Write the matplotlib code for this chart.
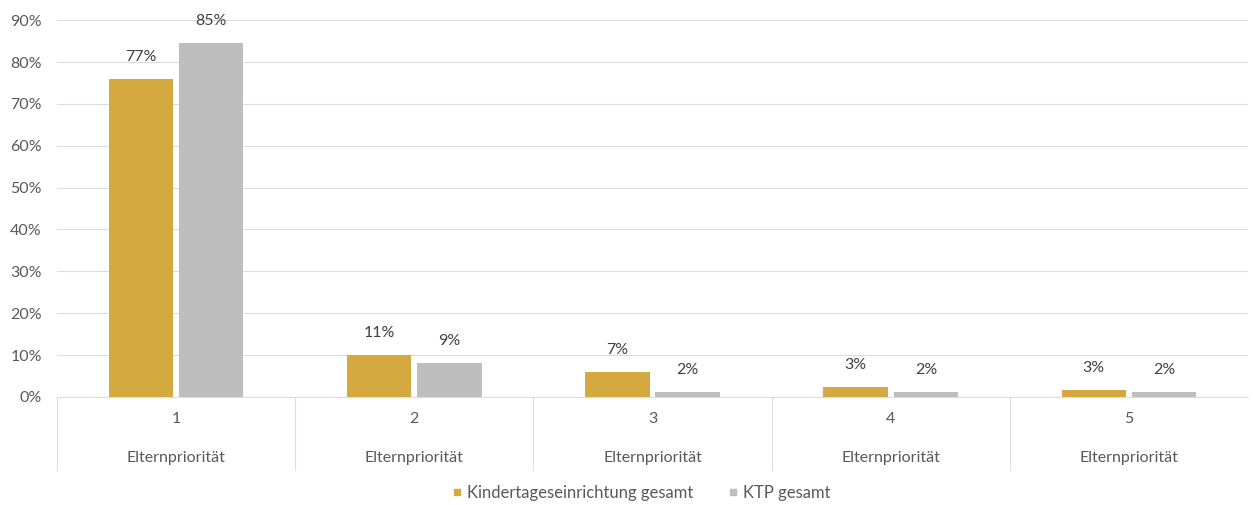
import matplotlib.pyplot as plt
from matplotlib.lines import Line2D
import numpy as np

plt.rcParams['font.family'] = ['Lato', 'DejaVu Sans']

# data
categories = ['1', '2', '3', '4', '5']
sub_label = 'Elternpriorität'
kita_values = [75.9, 10.0, 6.0, 2.4, 1.7]
ktp_values = [84.5, 8.1, 1.2, 1.2, 1.2]
kita_labels = ['77%', '11%', '7%', '3%', '3%']
ktp_labels = ['85%', '9%', '2%', '2%', '2%']
series_names = ['Kindertageseinrichtung gesamt', 'KTP gesamt']

gold = '#D4A93F'
grey = '#BEBEBE'
text_col = '#595959'
grid_col = '#DCDCDC'
fs = 11.5

fig = plt.figure(figsize=(12.53, 5.05), dpi=100)
ax = fig.add_axes([0.0455, 0.214, 0.9505, 0.746])

x = np.arange(len(categories))
w = 0.27
off = 0.1475

b1 = ax.bar(x - off, kita_values, w, color=gold, zorder=3)
b2 = ax.bar(x + off, ktp_values, w, color=grey, zorder=3)

# value labels above the bars
for bars, labs in ((b1, kita_labels), (b2, ktp_labels)):
    for rect, lab in zip(bars, labs):
        ax.annotate(lab, (rect.get_x() + rect.get_width() / 2, rect.get_height()),
                    xytext=(0, 16), textcoords='offset points', ha='center', va='center',
                    fontsize=fs, color='#404040')

ax.set_xlim(-0.5, len(categories) - 0.5)
ax.set_ylim(0, 90)
ax.set_yticks(np.arange(0, 91, 10))
ax.set_yticklabels([f'{v}%' for v in range(0, 91, 10)])
ax.tick_params(axis='y', length=0, pad=11, labelsize=fs, labelcolor=text_col)
ax.yaxis.grid(True, color=grid_col, linewidth=0.8, zorder=0)

# category axis drawn like a small table below the plot
ax.set_xticks(x)
ax.set_xticklabels(categories)
ax.tick_params(axis='x', length=0, pad=11, labelsize=fs, labelcolor=text_col)
trans = ax.get_xaxis_transform()
for xi in x:
    ax.text(xi, -0.162, sub_label, transform=trans, ha='center', va='center',
            fontsize=fs, color=text_col)
for xb in np.arange(-0.5, len(categories) - 0.4, 1.0)[:-1]:
    ax.plot([xb, xb], [0, -0.194], transform=trans, color=grid_col,
            linewidth=0.8, clip_on=False)

for s in ['top', 'right', 'left']:
    ax.spines[s].set_visible(False)
ax.spines['bottom'].set_color(grid_col)
ax.spines['bottom'].set_linewidth(0.8)

handles = [Line2D([], [], marker='s', linestyle='', markersize=4, color=gold),
           Line2D([], [], marker='s', linestyle='', markersize=4, color=grey)]
leg = fig.legend(handles, series_names, loc='center', bbox_to_anchor=(0.511, 0.024),
                 ncol=2, frameon=False, fontsize=12, handletextpad=0.2,
                 columnspacing=2.0, handlelength=0.8)
for t in leg.get_texts():
    t.set_color(text_col)

fig.savefig('out.png', dpi=100, facecolor='white')
plt.close(fig)
